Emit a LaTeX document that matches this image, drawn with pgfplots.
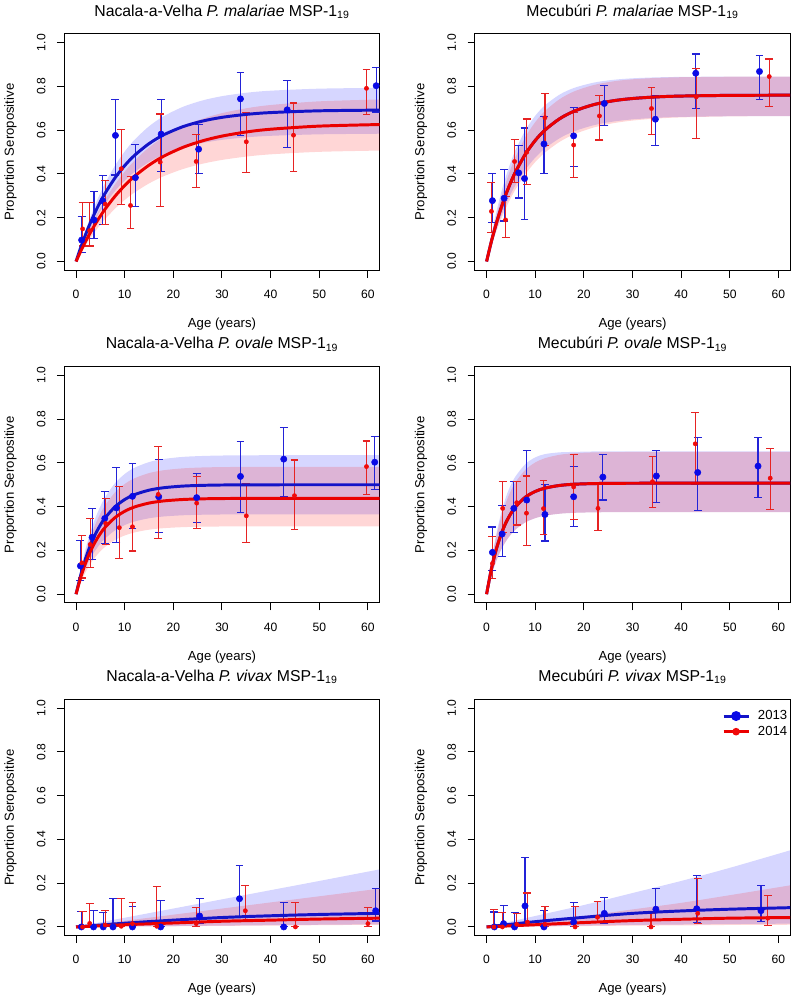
\documentclass[border=0pt]{standalone}
\usepackage{fontspec}
\setmainfont{Liberation Sans}
\usepackage{pgfplots}
\usepackage{pgfplotstable}
\pgfplotsset{compat=1.18}
\usepgfplotslibrary{fillbetween}

\definecolor{bandB}{RGB}{0,0,255}
\definecolor{bandR}{RGB}{255,0,0}
\definecolor{lineB}{RGB}{20,20,200}
\definecolor{lineR}{RGB}{235,0,0}
\definecolor{errB}{RGB}{35,35,215}
\definecolor{errR}{RGB}{230,35,35}
\definecolor{ptB}{RGB}{10,10,230}
\definecolor{ptR}{RGB}{240,10,10}

% ---------- observed data: age, proportion, lower CI, upper CI ----------
\pgfplotstableread{
a p lo hi
1.15 0.098 0.040 0.205
3.7 0.190 0.104 0.319
5.5 0.277 0.170 0.394
8.1 0.576 0.395 0.740
12.2 0.383 0.250 0.535
17.5 0.582 0.410 0.740
25.2 0.513 0.400 0.625
33.8 0.743 0.577 0.862
43.4 0.693 0.522 0.825
61.7 0.803 0.683 0.887
}\dOneB
\pgfplotstableread{
a p lo hi
1.35 0.149 0.071 0.268
2.8 0.141 0.071 0.268
6.0 0.262 0.170 0.370
9.3 0.424 0.260 0.605
11.2 0.256 0.152 0.390
17.3 0.454 0.252 0.674
24.7 0.457 0.340 0.580
35.0 0.547 0.405 0.680
44.7 0.577 0.410 0.724
59.7 0.791 0.672 0.878
}\dOneR
\pgfplotstableread{
a p lo hi
1.2 0.278 0.180 0.403
3.6 0.289 0.185 0.420
6.6 0.405 0.290 0.530
7.8 0.379 0.190 0.610
11.8 0.537 0.400 0.662
17.9 0.574 0.432 0.703
24.2 0.722 0.620 0.805
34.7 0.650 0.528 0.760
43.0 0.860 0.697 0.948
56.1 0.868 0.742 0.940
}\dTwoB
\pgfplotstableread{
a p lo hi
1.0 0.229 0.133 0.362
3.9 0.190 0.108 0.296
5.75 0.457 0.360 0.556
8.25 0.499 0.350 0.651
12.0 0.657 0.530 0.766
17.9 0.532 0.382 0.680
23.2 0.665 0.555 0.757
33.9 0.699 0.580 0.795
43.1 0.752 0.563 0.880
58.1 0.845 0.710 0.925
}\dTwoR
\pgfplotstableread{
a p lo hi
0.9 0.129 0.062 0.245
3.3 0.260 0.157 0.393
5.9 0.346 0.233 0.470
8.3 0.394 0.235 0.578
11.6 0.447 0.300 0.598
17.0 0.445 0.283 0.617
24.8 0.441 0.328 0.552
33.8 0.538 0.374 0.696
42.7 0.617 0.447 0.760
61.4 0.603 0.477 0.720
}\dThreeB
\pgfplotstableread{
a p lo hi
1.2 0.143 0.074 0.268
2.9 0.227 0.120 0.347
6.1 0.323 0.225 0.436
8.9 0.304 0.162 0.490
11.6 0.308 0.197 0.450
16.9 0.456 0.253 0.673
24.8 0.416 0.302 0.538
35.0 0.358 0.235 0.505
44.9 0.450 0.297 0.613
59.7 0.583 0.456 0.700
}\dThreeR
\pgfplotstableread{
a p lo hi
1.2 0.191 0.110 0.307
3.2 0.275 0.173 0.405
5.6 0.392 0.280 0.516
8.25 0.430 0.224 0.655
12.0 0.364 0.243 0.500
17.9 0.445 0.310 0.583
23.9 0.535 0.430 0.637
34.9 0.540 0.420 0.655
43.4 0.556 0.382 0.715
55.8 0.585 0.443 0.715
}\dFourB
\pgfplotstableread{
a p lo hi
1.2 0.140 0.070 0.264
3.3 0.392 0.280 0.516
6.2 0.418 0.316 0.516
8.2 0.370 0.223 0.540
11.7 0.391 0.272 0.520
17.9 0.490 0.343 0.637
22.9 0.392 0.292 0.500
34.1 0.514 0.397 0.627
42.9 0.687 0.500 0.832
58.3 0.530 0.386 0.667
}\dFourR
\pgfplotstableread{
a p lo hi
1.1 0 0 0.070
3.6 0 0 0.077
5.6 0 0 0.066
7.6 0 0 0.130
11.6 0 0 0.094
17.4 0 0 0.120
25.4 0.050 0.015 0.130
33.6 0.129 0.045 0.280
42.7 0 0 0.110
61.6 0.074 0.027 0.175
}\dFiveB
\pgfplotstableread{
a p lo hi
1.35 0 0 0.072
2.8 0.016 0 0.107
6.0 0.009 0 0.075
9.3 0.003 0 0.130
11.6 0.015 0 0.110
16.6 0.003 0 0.185
24.7 0.015 0 0.087
34.8 0.074 0.028 0.190
45.1 0 0 0.110
60.0 0.015 0 0.090
}\dFiveR
\pgfplotstableread{
a p lo hi
1.6 0 0 0.068
3.5 0.015 0 0.097
5.75 0 0 0.066
7.9 0.096 0.012 0.318
11.8 0 0 0.077
17.9 0.022 0.003 0.111
24.2 0.062 0.018 0.134
34.8 0.081 0.030 0.174
43.2 0.083 0.022 0.235
56.4 0.074 0.025 0.190
}\dSixB
\pgfplotstableread{
a p lo hi
1.5 0 0 0.078
3.25 0 0 0.066
6.2 0.012 0 0.063
8.4 0.022 0.010 0.155
12.0 0.012 0 0.095
18.2 0 0 0.094
22.8 0.044 0.020 0.115
33.8 0 0 0.063
43.4 0.062 0.015 0.222
57.8 0.040 0.008 0.145
}\dSixR

% ---------- fitted curves: age, fit, lower band, upper band ----------
\pgfplotstableread{
a m lo hi
0 0 0 0
1 0.0660 0.0557 0.0757
2 0.1256 0.1060 0.1441
3 0.1796 0.1516 0.2060
4 0.2285 0.1929 0.2621
5 0.2727 0.2302 0.3128
6 0.3127 0.2639 0.3587
8 0.3816 0.3221 0.4377
10 0.4380 0.3697 0.5024
12 0.4843 0.4087 0.5555
15 0.5384 0.4544 0.6175
18 0.5785 0.4883 0.6635
22 0.6162 0.5201 0.7068
26 0.6415 0.5414 0.7358
30 0.6585 0.5558 0.7553
35 0.6721 0.5673 0.7709
40 0.6803 0.5742 0.7803
50 0.6884 0.5810 0.7896
62.4 0.6916 0.5837 0.7933
}\cOneB
\pgfplotstableread{
a m lo hi
0 0 0 0
1 0.0485 0.0393 0.0574
2 0.0932 0.0755 0.1103
3 0.1344 0.1089 0.1590
4 0.1725 0.1397 0.2041
5 0.2077 0.1682 0.2457
6 0.2402 0.1946 0.2842
8 0.2978 0.2412 0.3523
10 0.3469 0.2810 0.4104
12 0.3888 0.3149 0.4600
15 0.4402 0.3566 0.5208
18 0.4808 0.3894 0.5688
22 0.5216 0.4225 0.6171
26 0.5513 0.4466 0.6522
30 0.5729 0.4640 0.6777
35 0.5917 0.4793 0.7000
40 0.6043 0.4895 0.7149
50 0.6185 0.5010 0.7317
62.4 0.6257 0.5068 0.7402
}\cOneR
\pgfplotstableread{
a m lo hi
0 0 0 0
1 0.0926 0.0781 0.1213
2 0.1740 0.1471 0.2253
3 0.2454 0.2079 0.3143
4 0.3082 0.2617 0.3905
5 0.3633 0.3090 0.4558
6 0.4116 0.3509 0.5116
8 0.4913 0.4203 0.6005
10 0.5529 0.4745 0.6657
12 0.6004 0.5166 0.7134
15 0.6519 0.5630 0.7624
18 0.6868 0.5949 0.7931
22 0.7165 0.6225 0.8171
26 0.7342 0.6392 0.8300
30 0.7446 0.6494 0.8369
35 0.7520 0.6566 0.8413
40 0.7558 0.6605 0.8433
50 0.7589 0.6637 0.8447
62.4 0.7598 0.6647 0.8450
}\cTwoB
\pgfplotstableread{
a m lo hi
0 0 0 0
1 0.0926 0.0722 0.1104
2 0.1740 0.1367 0.2063
3 0.2454 0.1940 0.2898
4 0.3082 0.2452 0.3623
5 0.3633 0.2908 0.4254
6 0.4116 0.3314 0.4802
8 0.4913 0.4000 0.5693
10 0.5529 0.4545 0.6366
12 0.6004 0.4977 0.6875
15 0.6519 0.5465 0.7415
18 0.6868 0.5811 0.7770
22 0.7165 0.6121 0.8061
26 0.7342 0.6316 0.8228
30 0.7446 0.6439 0.8323
35 0.7520 0.6531 0.8387
40 0.7558 0.6583 0.8419
50 0.7589 0.6629 0.8442
62.4 0.7598 0.6645 0.8448
}\cTwoR
\pgfplotstableread{
a m lo hi
0 0 0 0
1 0.0906 0.0661 0.1151
2 0.1648 0.1203 0.2093
3 0.2256 0.1647 0.2865
4 0.2753 0.2010 0.3496
5 0.3160 0.2307 0.4013
6 0.3494 0.2551 0.4437
8 0.3990 0.2913 0.5067
10 0.4323 0.3156 0.5490
12 0.4546 0.3319 0.5773
15 0.4751 0.3468 0.6034
18 0.4863 0.3550 0.6176
22 0.4939 0.3605 0.6273
26 0.4972 0.3630 0.6314
30 0.4988 0.3641 0.6335
35 0.4996 0.3647 0.6345
40 0.4998 0.3649 0.6348
50 0.5000 0.3650 0.6350
62.4 0.5000 0.3650 0.6350
}\cThreeB
\pgfplotstableread{
a m lo hi
0 0 0 0
1 0.0794 0.0562 0.1055
2 0.1444 0.1022 0.1919
3 0.1976 0.1399 0.2626
4 0.2412 0.1708 0.3206
5 0.2769 0.1960 0.3680
6 0.3061 0.2167 0.4068
8 0.3496 0.2475 0.4646
10 0.3787 0.2681 0.5033
12 0.3983 0.2820 0.5293
15 0.4162 0.2947 0.5531
18 0.4260 0.3016 0.5662
22 0.4326 0.3063 0.5749
26 0.4356 0.3084 0.5789
30 0.4369 0.3093 0.5806
35 0.4376 0.3098 0.5816
40 0.4378 0.3100 0.5818
50 0.4380 0.3100 0.5820
62.4 0.4380 0.3100 0.5820
}\cThreeR
\pgfplotstableread{
a m lo hi
0 0 0 0
1 0.1161 0.0859 0.1550
2 0.2056 0.1521 0.2750
3 0.2746 0.2032 0.3700
4 0.3278 0.2426 0.4450
5 0.3688 0.2729 0.5000
6 0.4005 0.2964 0.5400
8 0.4437 0.3283 0.5950
10 0.4693 0.3473 0.6250
12 0.4846 0.3586 0.6400
15 0.4967 0.3676 0.6480
18 0.5023 0.3717 0.6500
22 0.5053 0.3739 0.6520
26 0.5064 0.3747 0.6520
30 0.5068 0.3750 0.6520
35 0.5070 0.3750 0.6520
40 0.5070 0.3750 0.6520
50 0.5070 0.3750 0.6520
62.4 0.5070 0.3750 0.6520
}\cFourB
\pgfplotstableread{
a m lo hi
0 0 0 0
1 0.1161 0.0859 0.1488
2 0.2056 0.1521 0.2636
3 0.2746 0.2032 0.3520
4 0.3278 0.2426 0.4202
5 0.3688 0.2729 0.4728
6 0.4005 0.2964 0.5134
8 0.4437 0.3283 0.5688
10 0.4693 0.3473 0.6016
12 0.4846 0.3586 0.6212
15 0.4967 0.3676 0.6368
18 0.5023 0.3717 0.6439
22 0.5053 0.3739 0.6478
26 0.5064 0.3747 0.6492
30 0.5068 0.3750 0.6497
35 0.5070 0.3750 0.6500
40 0.5070 0.3750 0.6500
50 0.5070 0.3750 0.6500
62.4 0.5070 0.3750 0.6500
}\cFourR
\pgfplotstableread{
a m lo hi
0 0 0 0
10 0.017 0.002 0.042
20 0.031 0.004 0.084
30 0.043 0.006 0.126
40 0.051 0.008 0.168
50 0.057 0.010 0.210
62.4 0.062 0.012 0.263
}\cFiveB
\pgfplotstableread{
a m lo hi
0 0 0 0
10 0.010 0.002 0.028
20 0.018 0.003 0.056
30 0.026 0.005 0.084
40 0.031 0.006 0.112
50 0.036 0.008 0.140
62.4 0.040 0.010 0.175
}\cFiveR
\pgfplotstableread{
a m lo hi
0 0 0 0
10 0.024 0.003 0.050
20 0.044 0.006 0.100
30 0.062 0.009 0.155
40 0.073 0.011 0.210
50 0.081 0.013 0.270
62.4 0.088 0.015 0.350
}\cSixB
\pgfplotstableread{
a m lo hi
0 0 0 0
10 0.010 0.002 0.025
20 0.020 0.004 0.050
30 0.029 0.006 0.080
40 0.035 0.007 0.110
50 0.040 0.009 0.145
62.4 0.043 0.010 0.190
}\cSixR

\pgfplotsset{
  legend image code/.code={\draw[mark repeat=2, mark phase=2, #1] plot coordinates {(0pt,0pt) (9.5pt,0pt) (19pt,0pt)};},
  legend style={draw=none, fill=none, at={(axis description cs:1.0,0.965)}, anchor=north east,
    font=\fontsize{10}{11}\selectfont, inner sep=0pt, row sep=-0.6pt,
    /tikz/every odd column/.style={column sep=4pt}},
  legend cell align=left,
  panel/.style={
    scale only axis, width=239.5pt, height=179.6pt,
    xmin=-2.4, xmax=62.4, ymin=-0.04, ymax=1.04,
    xtick={0,10,20,30,40,50,60}, xticklabels={0,10,20,30,40,50,60},
    ytick={0,0.2,0.4,0.6,0.8,1}, yticklabels={0.0,0.2,0.4,0.6,0.8,1.0},
    /pgf/number format/assume math mode=true,
    xtick pos=left, ytick pos=left, tick align=outside,
    major tick length=5.6pt,
    every tick/.style={black, line width=0.75pt},
    axis line style={black, line width=0.75pt},
    ticklabel style={font=\fontsize{9.2}{10}\selectfont},
    xticklabel style={anchor=base}, xticklabel shift=15.9pt,
    yticklabel style={rotate=90, anchor=base}, yticklabel shift=8.9pt,
    xlabel={Age (years)}, ylabel={Proportion Seropositive},
    label style={font=\fontsize{10}{11}\selectfont},
    xlabel style={at={(axis description cs:0.5,-0.242)}, anchor=base},
    ylabel style={at={(axis description cs:-0.16,0.5)}, anchor=base},
    title style={at={(axis description cs:0.5,1.042)}, anchor=base, font=\fontsize{12}{13}\selectfont},
  },
  datB/.style={only marks, mark=*, mark size=2.4pt, color=ptB,
    error bars/y dir=both, error bars/y explicit,
    error bars/error bar style={line width=0.85pt, color=errB},
    error bars/error mark options={rotate=90, mark size=3pt, line width=0.85pt, color=errB}},
  datR/.style={only marks, mark=*, mark size=1.6pt, color=ptR,
    error bars/y dir=both, error bars/y explicit,
    error bars/error bar style={line width=0.85pt, color=errR},
    error bars/error mark options={rotate=90, mark size=3pt, line width=0.85pt, color=errR}},
}

\newcommand{\panel}[7]{%
\begin{axis}[panel, at={#2}, anchor=north west, title={#1}]
#7
\addplot[name path=bh, draw=none, smooth, forget plot] table[x=a,y=hi]{#5};
\addplot[name path=bl, draw=none, smooth, forget plot] table[x=a,y=lo]{#5};
\addplot[fill=bandB, fill opacity=0.16, draw=none, forget plot] fill between[of=bh and bl];
\addplot[name path=rh, draw=none, smooth, forget plot] table[x=a,y=hi]{#6};
\addplot[name path=rl, draw=none, smooth, forget plot] table[x=a,y=lo]{#6};
\addplot[fill=bandR, fill opacity=0.16, draw=none, forget plot] fill between[of=rh and rl];
\addplot[datB, forget plot] table[x=a, y=p, y error plus expr=\thisrow{hi}-\thisrow{p}, y error minus expr=\thisrow{p}-\thisrow{lo}]{#3};
\addplot[datR, forget plot] table[x=a, y=p, y error plus expr=\thisrow{hi}-\thisrow{p}, y error minus expr=\thisrow{p}-\thisrow{lo}]{#4};
\addplot[color=lineB, line width=2.25pt, smooth, forget plot] table[x=a,y=m]{#5};
\addplot[color=lineR, line width=2.25pt, smooth, forget plot] table[x=a,y=m]{#6};
\end{axis}}

\newcommand{\legendsix}{%
\addlegendimage{color=lineB, line width=2.25pt, mark=*, mark size=2.6pt, mark options={solid, fill=ptB, draw=ptB}}
\addlegendentry{2013}
\addlegendimage{color=lineR, line width=2.25pt, mark=*, mark size=1.7pt, mark options={solid, fill=ptR, draw=ptR}}
\addlegendentry{2014}}

\begin{document}
\begin{tikzpicture}
\path (0pt,0pt) rectangle (597pt,-750pt);
\panel{Nacala-a-Velha \textit{P. malariae} MSP-1\textsubscript{19}}{(45pt,-17.55pt)}{\dOneB}{\dOneR}{\cOneB}{\cOneR}{}
\panel{Mecubúri \textit{P. malariae} MSP-1\textsubscript{19}}{(356.9pt,-17.55pt)}{\dTwoB}{\dTwoR}{\cTwoB}{\cTwoR}{}
\panel{Nacala-a-Velha \textit{P. ovale} MSP-1\textsubscript{19}}{(45pt,-270.3pt)}{\dThreeB}{\dThreeR}{\cThreeB}{\cThreeR}{}
\panel{Mecubúri \textit{P. ovale} MSP-1\textsubscript{19}}{(356.9pt,-270.3pt)}{\dFourB}{\dFourR}{\cFourB}{\cFourR}{}
\panel{Nacala-a-Velha \textit{P. vivax} MSP-1\textsubscript{19}}{(45pt,-523.1pt)}{\dFiveB}{\dFiveR}{\cFiveB}{\cFiveR}{}
\panel{Mecubúri \textit{P. vivax} MSP-1\textsubscript{19}}{(356.9pt,-523.1pt)}{\dSixB}{\dSixR}{\cSixB}{\cSixR}{\legendsix}
\end{tikzpicture}
\end{document}
